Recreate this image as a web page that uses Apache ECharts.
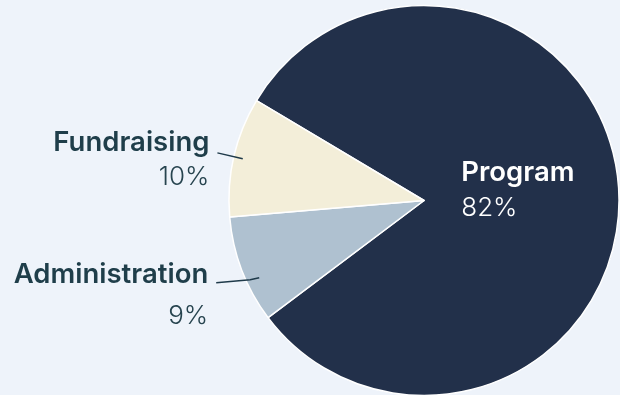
<!DOCTYPE html>
<html>
<head>
<meta charset="utf-8">
<script src="https://cdn.jsdelivr.net/npm/echarts@6/dist/echarts.min.js"></script>
<style>
  html, body { margin: 0; padding: 0; background: #eef3fa; }
  #chart { width: 620px; height: 395px; }
</style>
</head>
<body>
<div id="chart"></div>
<script>
// Spending breakdown (percent of total)
const categories = ['Program', 'Administration', 'Fundraising'];
const shares = [82, 9, 10];
const sliceColors = ['#22304a', '#afc1d0', '#f3eed9'];

const FONT = 'Inter, "Noto Sans", sans-serif';
const CENTER = [424, 200.5];
const START = 149.2;

function richFor(color, pctColor, align, lh) {
  return {
    n: { color: color, fontFamily: FONT, fontWeight: 560, fontSize: 27.5, lineHeight: lh, align: align },
    p: { color: pctColor, fontFamily: FONT, fontWeight: 350, fontSize: 26, lineHeight: lh, align: align }
  };
}
const fmt = p => '{n|' + p.name + '}\n{p|' + p.value + '%}';

// per-slice outside label settings (Program is labelled inside the slice)
const outsideLabel = {
  Administration: { lh: 41, pad: 31, length: 0, length2: 34, shift: 13, lineStart: [9, -2], lineEnd: [0, 3] },
  Fundraising: { lh: 35, pad: 14, length: 26, length2: 0, shift: 0 }
};

const chart = echarts.init(document.getElementById('chart'), null, { renderer: 'canvas' });
chart.setOption({
  backgroundColor: '#eef3fa',
  animation: false,
  series: [
    {
      type: 'pie',
      center: CENTER,
      radius: 195,
      startAngle: START,
      clockwise: true,
      silent: true,
      avoidLabelOverlap: false,
      itemStyle: { borderColor: '#ffffff', borderWidth: 1.5 },
      label: {
        position: 'inner',
        formatter: fmt,
        padding: [0, 13, 9, 0],
        rich: richFor('#ffffff', '#ffffff', 'left', 35)
      },
      labelLine: { show: false },
      data: categories.map((c, i) => ({
        name: c,
        value: shares[i],
        itemStyle: { color: sliceColors[i] },
        label: { show: i === 0 }
      }))
    },
    {
      // transparent ring carrying the outside labels; leader lines start inside the slices
      type: 'pie',
      center: CENTER,
      radius: 186,
      startAngle: START,
      clockwise: true,
      silent: true,
      z: 3,
      avoidLabelOverlap: false,
      itemStyle: { color: 'rgba(0,0,0,0)', borderWidth: 0 },
      label: {
        position: 'outside',
        formatter: fmt,
        distanceToLabelLine: 8
      },
      labelLine: { lineStyle: { color: '#1f3a4a', width: 1.5 } },
      labelLayout: function (p) {
        const cfg = outsideLabel[categories[p.dataIndex]];
        if (!cfg || !cfg.shift) return {};
        const pts = p.labelLinePoints;
        const last = pts.length - 1;
        return {
          dy: cfg.shift,
          labelLinePoints: pts.map((pt, k) => {
            const extra = k === 0 ? cfg.lineStart : (k === last ? cfg.lineEnd : [0, 0]);
            return [pt[0] + extra[0], pt[1] + cfg.shift + extra[1]];
          })
        };
      },
      data: categories.map((c, i) => {
        const cfg = outsideLabel[c];
        if (!cfg) {
          return { name: c, value: shares[i], label: { show: false }, labelLine: { show: false } };
        }
        return {
          name: c,
          value: shares[i],
          label: {
            show: true,
            padding: [cfg.pad, 0, 0, 0],
            rich: richFor('#1f3e4a', '#27444f', 'right', cfg.lh)
          },
          labelLine: { show: true, length: cfg.length, length2: cfg.length2 }
        };
      })
    }
  ]
});
</script>
</body>
</html>
